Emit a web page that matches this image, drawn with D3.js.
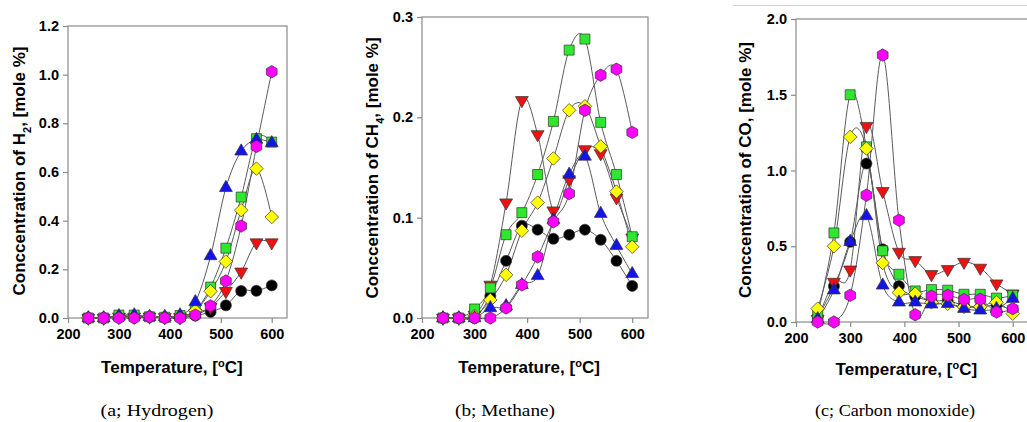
<!DOCTYPE html>
<html>
<head>
<meta charset="utf-8">
<script src="https://cdn.jsdelivr.net/npm/d3@7"></script>
<style>
  body { margin: 0; background: #fff; }
  svg { display: block; overflow: hidden; }
  .tick text { font-family: 'Liberation Sans', Arial, sans-serif; font-weight: bold; font-size: 14.5px; fill: #000; }
  .title { font-family: 'Liberation Sans', Arial, sans-serif; font-weight: bold; font-size: 17px; fill: #000; }
  .caption { font-family: 'Liberation Serif', 'Times New Roman', serif; font-size: 17.5px; fill: #000; }
</style>
</head>
<body>
<div id="chart"></div>
<script>
// temperatures (deg C)
const temps = [240, 270, 300, 330, 360, 390, 420, 450, 480, 510, 540, 570, 600]

// H2 concentration, mole %
const h2Black   = [0, 0, 0.005, 0.005, 0.005, 0.003, 0.003, 0.01, 0.025, 0.052, 0.111, 0.112, 0.134]
const h2Red     = [0, 0, 0.005, 0.005, 0.005, 0.003, 0.003, 0.02, 0.045, 0.11, 0.19, 0.31, 0.31]
const h2Green   = [0, 0, 0.012, 0.012, 0.005, 0.003, 0.01, 0.03, 0.127, 0.287, 0.497, 0.737, 0.723]
const h2Yellow  = [0, 0, 0.005, 0.005, 0.005, 0.003, 0.005, 0.03, 0.11, 0.232, 0.443, 0.614, 0.415]
const h2Blue    = [0, 0, 0.008, 0.012, 0.005, 0.005, 0.012, 0.066, 0.255, 0.535, 0.685, 0.733, 0.719]
const h2Magenta = [0, 0, 0, 0, 0.005, 0, 0, 0.012, 0.05, 0.152, 0.378, 0.705, 1.012]

// CH4 concentration, mole %
const ch4Black   = [0, 0, 0, 0.022, 0.057, 0.092, 0.088, 0.079, 0.083, 0.088, 0.078, 0.057, 0.032]
const ch4Red     = [0, 0, 0.003, 0.033, 0.115, 0.217, 0.183, 0.107, 0.138, 0.168, 0.164, 0.12, 0.08]
const ch4Green   = [0, 0, 0.009, 0.03, 0.083, 0.105, 0.143, 0.196, 0.267, 0.278, 0.195, 0.143, 0.081]
const ch4Yellow  = [0, 0, 0.002, 0.018, 0.043, 0.087, 0.115, 0.159, 0.207, 0.211, 0.171, 0.126, 0.071]
const ch4Blue    = [0, 0, 0, 0.01, 0.012, 0.033, 0.042, 0.098, 0.143, 0.161, 0.104, 0.072, 0.044]
const ch4Magenta = [0, 0, 0, 0, 0.01, 0.033, 0.061, 0.096, 0.124, 0.207, 0.242, 0.248, 0.185]

// CO concentration, mole %
const coBlack   = [0.033, 0.236, 0.529, 1.046, 0.48, 0.238, 0.17, 0.14, 0.14, 0.11, 0.1, 0.11, 0.08]
const coRed     = [0.02, 0.264, 0.345, 1.293, 0.863, 0.462, 0.407, 0.315, 0.348, 0.396, 0.357, 0.253, 0.187]
const coGreen   = [0.05, 0.588, 1.5, 1.156, 0.47, 0.315, 0.205, 0.214, 0.21, 0.183, 0.183, 0.158, 0.176]
const coYellow  = [0.088, 0.5, 1.222, 1.145, 0.39, 0.194, 0.187, 0.13, 0.12, 0.1, 0.1, 0.13, 0.055]
const coBlue    = [0.02, 0.21, 0.53, 0.7, 0.242, 0.13, 0.13, 0.117, 0.12, 0.088, 0.077, 0.088, 0.154]
const coMagenta = [0, 0, 0.176, 0.837, 1.762, 0.672, 0.048, 0.17, 0.176, 0.148, 0.15, 0.066, 0.088]

const xTicks = [200, 300, 400, 500, 600]
const h2Ticks = [0, 0.2, 0.4, 0.6, 0.8, 1.0, 1.2]
const ch4Ticks = [0, 0.1, 0.2, 0.3]
const coTicks = [0, 0.5, 1.0, 1.5, 2.0]

const captions = ['(a;  Hydrogen)', '(b;  Methane)', '(c;  Carbon  monoxide)']

// custom marker shapes
const hexagon = {
  draw(ctx, size) {
    let r = Math.sqrt(size / (1.5 * Math.sqrt(3)))
    for (let i = 0; i < 6; i++) {
      let a = -Math.PI / 2 + i * Math.PI / 3
      i ? ctx.lineTo(r * Math.cos(a), r * Math.sin(a)) : ctx.moveTo(r * Math.cos(a), r * Math.sin(a))
    }
    ctx.closePath()
  }
}
const diamond = {
  draw(ctx, size) {
    let r = Math.sqrt(size / 2)
    ctx.moveTo(0, -r); ctx.lineTo(r, 0); ctx.lineTo(0, r); ctx.lineTo(-r, 0); ctx.closePath()
  }
}
function tri(dir) {
  return {
    draw(ctx, size) {
      let s = Math.sqrt(size * 4 / Math.sqrt(3))
      let h = s * Math.sqrt(3) / 2
      ctx.moveTo(0, -dir * h * 2 / 3)
      ctx.lineTo(s / 2, dir * h / 3)
      ctx.lineTo(-s / 2, dir * h / 3)
      ctx.closePath()
    }
  }
}

// draw order: black, red, green, yellow, blue, magenta
const styles = [
  { fill: '#000000', type: d3.symbolCircle, size: 95 },
  { fill: '#ee1111', type: tri(-1), size: 72 },
  { fill: '#2de82d', type: d3.symbolSquare, size: 100 },
  { fill: '#ffff00', type: diamond, size: 92 },
  { fill: '#1414e6', type: tri(1), size: 72 },
  { fill: '#ff00ff', type: hexagon, size: 100 }
]

const panels = [
  { left: 68, right: 287, top: 26, bottom: 318, yMax: 1.2, yTicks: h2Ticks,
    series: [h2Black, h2Red, h2Green, h2Yellow, h2Blue, h2Magenta],
    label: ['Conccentration of H', '2', ', [mole %]'], labelX: 25, labelY: 171,
    xLabelY: 373, caption: 157, capWidth: 113 },
  { left: 422, right: 648, top: 17, bottom: 318, yMax: 0.3, yTicks: ch4Ticks,
    series: [ch4Black, ch4Red, ch4Green, ch4Yellow, ch4Blue, ch4Magenta],
    label: ['Conccentration of CH', '4', ', [mole %]'], labelX: 378, labelY: 168,
    xLabelY: 373, caption: 505, capWidth: 100 },
  { left: 796, right: 1029, top: 19, bottom: 322, yMax: 2.0, yTicks: coTicks,
    series: [coBlack, coRed, coGreen, coYellow, coBlue, coMagenta],
    label: ['Conccentration of CO, [mole %]'], labelX: 751, labelY: 170,
    xLabelY: 375, caption: 895, capWidth: 160 }
]

let svg = d3.select('#chart').append('svg')
  .attr('width', 1027)
  .attr('height', 422)

// thin grey line along the top of the third panel
svg.append('line')
  .attr('x1', 733).attr('x2', 1027).attr('y1', 5.5).attr('y2', 5.5)
  .attr('stroke', '#cfcfcf').attr('stroke-width', 1)

panels.forEach((p, pi) => {
  let x = d3.scaleLinear().domain([200, 630]).range([p.left, p.right])
  let y = d3.scaleLinear().domain([0, p.yMax]).range([p.bottom, p.top])
  let g = svg.append('g')

  // frame
  g.append('rect')
    .attr('x', p.left).attr('y', p.top)
    .attr('width', p.right - p.left).attr('height', p.bottom - p.top)
    .attr('fill', 'none').attr('stroke', '#8a8a8a').attr('stroke-width', 1.2)

  let yAxis = g.append('g')
    .attr('transform', 'translate(' + p.left + ',0)')
    .call(d3.axisLeft(y).tickValues(p.yTicks).tickFormat(d3.format('.1f')).tickSize(5).tickPadding(4))
  let xAxis = g.append('g')
    .attr('transform', 'translate(0,' + p.bottom + ')')
    .call(d3.axisBottom(x).tickValues(xTicks).tickSize(5).tickPadding(6))
  ;[xAxis, yAxis].forEach(a => {
    a.select('.domain').remove()
    a.selectAll('.tick line').attr('stroke', '#8a8a8a').attr('stroke-width', 1.2)
  })

  // curves
  let line = d3.line()
    .x((d, i) => x(temps[i]))
    .y(d => y(d))
    .curve(d3.curveCardinal.tension(0))

  p.series.forEach(vals => {
    g.append('path')
      .datum(vals)
      .attr('d', line)
      .attr('fill', 'none')
      .attr('stroke', '#5a5a5a')
      .attr('stroke-width', 1)
  })

  // markers
  p.series.forEach((vals, si) => {
    let st = styles[si]
    g.append('g')
      .selectAll('path')
      .data(vals)
      .enter().append('path')
      .attr('transform', (d, i) => 'translate(' + x(temps[i]) + ',' + y(d) + ')')
      .attr('d', d3.symbol().type(st.type).size(st.size))
      .attr('fill', st.fill)
      .attr('stroke', '#333')
      .attr('stroke-width', 0.7)
  })

  // y title
  let yt = g.append('text')
    .attr('class', 'title')
    .attr('text-anchor', 'middle')
    .attr('transform', 'translate(' + p.labelX + ',' + p.labelY + ') rotate(-90)')
  yt.append('tspan').text(p.label[0])
  if (p.label.length > 1) {
    yt.append('tspan').attr('baseline-shift', 'sub').attr('font-size', '11px').text(p.label[1])
    yt.append('tspan').text(p.label[2])
  }

  // x title
  let xt = g.append('text')
    .attr('class', 'title')
    .attr('text-anchor', 'middle')
    .attr('x', (x(200) + x(600)) / 2 + 2)
    .attr('y', p.xLabelY)
  xt.append('tspan').text('Temperature, [')
  xt.append('tspan').attr('baseline-shift', 'super').attr('font-size', '11px').text('o')
  xt.append('tspan').text('C]')

  svg.append('text')
    .attr('class', 'caption')
    .attr('text-anchor', 'middle')
    .attr('x', p.caption)
    .attr('y', 416)
    .attr('textLength', p.capWidth)
    .attr('lengthAdjust', 'spacingAndGlyphs')
    .text(captions[pi])
})

// the bottom of the third panel is cropped in the original
svg.append('rect')
  .attr('x', 700).attr('y', 378).attr('width', 327).attr('height', 12)
  .attr('fill', '#fff')
</script>
</body>
</html>
